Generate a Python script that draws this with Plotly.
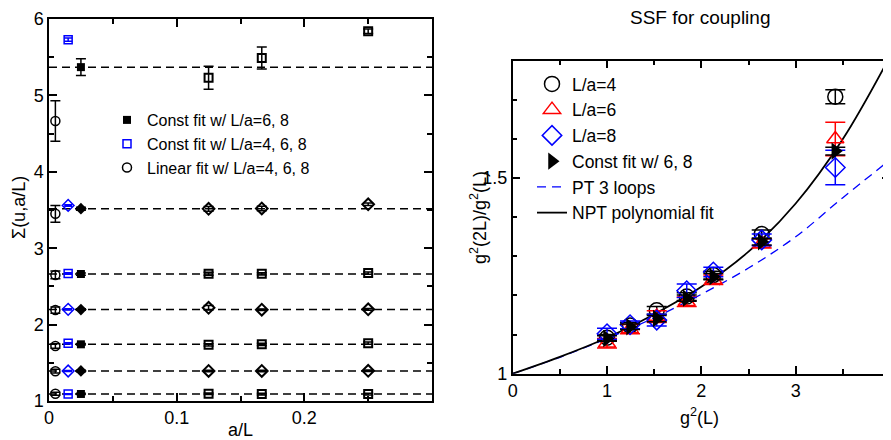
import plotly.graph_objects as go

# ---------------- data: left panel ----------------
aL = [0.125, 1/6, 0.25]                 # L/a = 8, 6, 4
x_lin = 0.005                            # linear-fit continuum result (plotted position)
x_c468 = 0.015                           # const fit L/a=4,6,8 (plotted position)
x_c68 = 0.025                            # const fit L/a=6,8 (plotted position)

sig_data = [[5.23, 5.49, 5.84], [3.515, 3.52, 3.575], [2.665, 2.665, 2.675],
            [2.22, 2.195, 2.20], [1.735, 1.742, 1.757], [1.393, 1.393, 1.395],
            [1.095, 1.09, 1.09]]
sig_err = [[0.15, 0.145, 0.03], [0.03, 0.03, 0.015], [0.02, 0.015, 0.015],
           [0.03, 0.01, 0.012], [0.015, 0.015, 0.015], [0.01, 0.01, 0.01],
           [0.01, 0.01, 0.01]]
fit68 = [5.37, 3.517, 2.662, 2.197, 1.742, 1.393, 1.092]
fit68_err = [0.11, 0.02, 0.015, 0.01, 0.01, 0.01, 0.008]
fit468 = [5.73, 3.56, 2.67, 2.20, 1.755, 1.393, 1.09]
fit468_err = [0.02, 0.01, 0.01, 0.008, 0.008, 0.006, 0.006]
lin = [4.665, 3.45, 2.65, 2.19, 1.72, 1.39, 1.095]
lin_err = [0.265, 0.11, 0.05, 0.04, 0.03, 0.025, 0.02]

# ---------------- data: right panel ----------------
g2 = [1.0, 1.244, 1.527, 1.845, 2.127, 2.64, 3.42]
r4 = [1.092, 1.123, 1.162, 1.197, 1.252, 1.357, 1.708]
r4_err = [0.008, 0.008, 0.01, 0.01, 0.01, 0.01, 0.018]
r6 = [1.078, 1.114, 1.146, 1.184, 1.240, 1.333, 1.600]
r6_err = [0.012, 0.012, 0.015, 0.012, 0.012, 0.012, 0.043]
r8 = [1.102, 1.125, 1.137, 1.212, 1.260, 1.342, 1.527]
r8_err = [0.014, 0.01, 0.015, 0.017, 0.012, 0.015, 0.044]
rfit = [1.09, 1.12, 1.141, 1.193, 1.248, 1.337, 1.569]
rfit_err = [0.007, 0.007, 0.008, 0.008, 0.008, 0.008, 0.01]

npt_x = [0, 0.5, 1, 1.5, 2, 2.5, 3, 3.5, 3.966]
npt_y = [1.0, 1.043, 1.092, 1.152, 1.222, 1.312, 1.435, 1.60, 1.796]
pt_x = [0, 0.5, 1, 1.5, 2, 2.5, 3, 3.5, 3.966]
pt_y = [1.0, 1.042, 1.09, 1.143, 1.203, 1.27, 1.35, 1.45, 1.54]

FONT = "Liberation Sans, Arial, sans-serif"
BLUE = "#0000ff"
RED = "#ff0000"

W, H = 891, 440
OFF = 8  # page offset of the plot div (default body margin)


def fx(px):
    return (px - OFF) / W


def fy(py):
    return 1 - (py - OFF) / H


fig = go.Figure()

# ---------- left panel ----------
for i, v in enumerate(fit68):
    fig.add_trace(go.Scatter(x=[0, 0.3], y=[v, v], mode="lines",
                             line=dict(color="black", width=1.5, dash="8px,5px"),
                             showlegend=False, hoverinfo="skip",
                             xaxis="x", yaxis="y"))

for i in range(len(sig_data)):
    sq = (i % 2 == 0)
    sym_open = "square-open" if sq else "diamond-open"
    sym_fill = "square" if sq else "diamond"
    msize = 8 if sq else 9
    fig.add_trace(go.Scatter(
        x=aL, y=sig_data[i], mode="markers",
        marker=dict(symbol=sym_open, size=msize, color="black", line=dict(width=2)),
        error_y=dict(type="data", array=sig_err[i], color="black", thickness=1.5, width=5),
        showlegend=False, xaxis="x", yaxis="y"))
    fig.add_trace(go.Scatter(
        x=[x_lin], y=[lin[i]], mode="markers",
        marker=dict(symbol="circle-open", size=9, color="black", line=dict(width=1.5)),
        error_y=dict(type="data", array=[lin_err[i]], color="black", thickness=1.5, width=5),
        name="Linear fit w/ L/a=4, 6, 8", legend="legend", legendrank=3,
        showlegend=(i == 0), xaxis="x", yaxis="y"))
    fig.add_trace(go.Scatter(
        x=[x_c468], y=[fit468[i]], mode="markers",
        marker=dict(symbol=sym_open, size=msize, color=BLUE, line=dict(width=1.5)),
        error_y=dict(type="data", array=[fit468_err[i]], color=BLUE, thickness=1.5, width=4),
        name="Const fit w/ L/a=4, 6, 8", legend="legend", legendrank=2,
        showlegend=(i == 0), xaxis="x", yaxis="y"))
    fig.add_trace(go.Scatter(
        x=[x_c68], y=[fit68[i]], mode="markers",
        marker=dict(symbol=sym_fill, size=msize, color="black"),
        error_y=dict(type="data", array=[fit68_err[i]], color="black", thickness=1.5, width=5),
        name="Const fit w/ L/a=6, 8", legend="legend", legendrank=1,
        showlegend=(i == 0), xaxis="x", yaxis="y"))

# ---------- right panel ----------
fig.add_trace(go.Scatter(x=pt_x, y=pt_y, mode="lines", line_shape="spline",
                         line=dict(color=BLUE, width=1.3, dash="9px,6px"),
                         name="PT 3 loops", legend="legend2", legendrank=5,
                         xaxis="x2", yaxis="y2"))
fig.add_trace(go.Scatter(x=npt_x, y=npt_y, mode="lines", line_shape="spline",
                         line=dict(color="black", width=1.8),
                         name="NPT polynomial fit", legend="legend2", legendrank=6,
                         xaxis="x2", yaxis="y2"))

fig.add_trace(go.Scatter(x=g2, y=r4, mode="markers", name="L/a=4",
                         marker=dict(symbol="circle-open", size=15, color="black", line=dict(width=1.5)),
                         error_y=dict(type="data", array=r4_err, color="black", thickness=1.5, width=10),
                         legend="legend2", legendrank=1, xaxis="x2", yaxis="y2"))
fig.add_trace(go.Scatter(x=g2, y=r6, mode="markers", name="L/a=6",
                         marker=dict(symbol="triangle-up-open", size=15, color=RED, line=dict(width=1.5)),
                         error_y=dict(type="data", array=r6_err, color=RED, thickness=1.5, width=10),
                         legend="legend2", legendrank=2, xaxis="x2", yaxis="y2"))
fig.add_trace(go.Scatter(x=g2, y=r8, mode="markers", name="L/a=8",
                         marker=dict(symbol="diamond-open", size=15, color=BLUE, line=dict(width=1.5)),
                         error_y=dict(type="data", array=r8_err, color=BLUE, thickness=1.5, width=10),
                         legend="legend2", legendrank=3, xaxis="x2", yaxis="y2"))
fig.add_trace(go.Scatter(x=g2, y=rfit, mode="markers", name="Const fit w/ 6, 8",
                         marker=dict(symbol="triangle-right", size=15, color="black"),
                         error_y=dict(type="data", array=rfit_err, color="black", thickness=1.5, width=10),
                         legend="legend2", legendrank=4, xaxis="x2", yaxis="y2"))

axis_common = dict(showline=True, linecolor="black", linewidth=1.5, mirror="allticks",
                   ticks="inside", ticklen=8, tickwidth=1.5, tickcolor="black",
                   showgrid=False, zeroline=False, automargin=False,
                   tickfont=dict(family=FONT, size=18, color="black"))
minor_common = dict(ticklen=5, tickwidth=1.5, tickcolor="black", ticks="inside")


def ann(text, px, py, size=18, angle=0):
    return dict(text=text, x=fx(px), y=fy(py), xref="paper", yref="paper",
                xanchor="center", yanchor="middle", textangle=angle, showarrow=False,
                font=dict(family=FONT, size=size, color="black"))


fig.update_layout(
    width=W, height=H,
    margin=dict(l=0, r=0, t=0, b=0, pad=0, autoexpand=False),
    paper_bgcolor="white", plot_bgcolor="white",
    font=dict(family=FONT, color="black"),
    xaxis=dict(domain=[fx(49), fx(432)], range=[0, 0.3], tickvals=[0, 0.1, 0.2],
               ticktext=["0", "0.1", "0.2"],
               minor=dict(tickvals=[0.05, 0.15, 0.25], **minor_common),
               anchor="y", **axis_common),
    yaxis=dict(domain=[fy(401), fy(19)], range=[1, 6], dtick=1,
               minor=dict(dtick=0.5, **minor_common),
               anchor="x", **axis_common),
    xaxis2=dict(domain=[fx(512.7), fx(890)], range=[0, 4], dtick=1,
                minor=dict(dtick=0.5, **minor_common),
                anchor="y2", **axis_common),
    yaxis2=dict(domain=[fy(373.7), fy(60.7)], range=[1, 1.8], dtick=0.5,
                minor=dict(dtick=0.1, **minor_common),
                anchor="x2", **axis_common),
    legend=dict(x=fx(107), y=fy(103), xanchor="left", yanchor="top",
                bgcolor="rgba(0,0,0,0)", font=dict(family=FONT, size=16, color="black"),
                itemwidth=30, tracegroupgap=0),
    legend2=dict(x=fx(532), y=fy(66), xanchor="left", yanchor="top",
                 bgcolor="rgba(0,0,0,0)", font=dict(family=FONT, size=17.5, color="black"),
                 itemwidth=30, tracegroupgap=0),
    annotations=[
        ann("SSF for coupling", 700, 17, size=19),
        ann("a/L", 241, 430),
        ann("Σ(u,a/L)", 19, 208, angle=-90),
        ann("g<sup>2</sup>(L)", 699, 416),
        ann("g<sup>2</sup>(2L)/g<sup>2</sup>(L)", 478, 218, angle=-90),
    ],
)

fig.write_html("out.html")
